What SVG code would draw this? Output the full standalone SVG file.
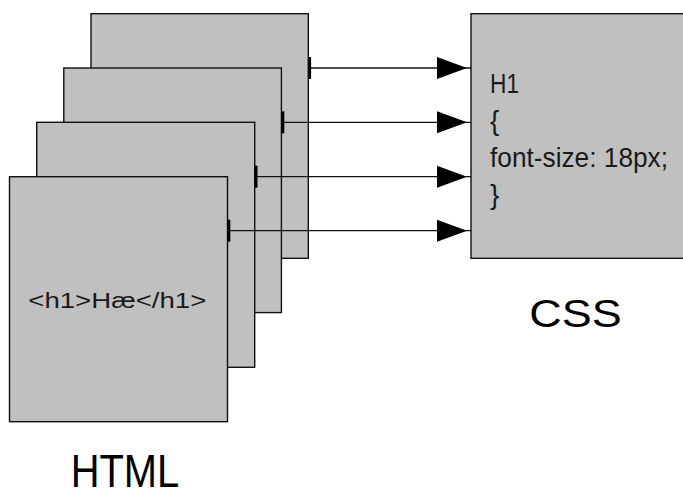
<svg xmlns="http://www.w3.org/2000/svg" width="683" height="491" viewBox="0 0 683 491">
<style>
.page{fill:#c0c0c0;stroke:#111;stroke-width:1.4}
.conn{stroke:#111;stroke-width:1.3;fill:none;marker-start:url(#tick);marker-end:url(#arrow)}
.code{font-family:"Liberation Sans",Arial,sans-serif;fill:#1a1a1a}
.label{font-family:"Liberation Sans",Arial,sans-serif;fill:#000}
</style>
<defs>
<marker id="arrow" markerUnits="userSpaceOnUse" markerWidth="40" markerHeight="24" refX="34" refY="11" orient="auto" overflow="visible">
<path d="M0,0 L30,11 L0,22 z" fill="#000"/>
</marker>
<marker id="tick" markerUnits="userSpaceOnUse" markerWidth="4" markerHeight="24" refX="0" refY="11" orient="auto" overflow="visible">
<rect x="0" y="0" width="2.8" height="22" fill="#000"/>
</marker>
</defs>
<rect width="683" height="491" fill="#fff"/>
<g id="html-page-4"><rect class="page" x="91" y="13.7" width="217.3" height="244.6"/></g>
<g id="html-page-3"><rect class="page" x="63.8" y="68" width="217.6" height="244.6"/></g>
<g id="html-page-2"><rect class="page" x="36.7" y="122.3" width="218" height="245"/></g>
<g id="html-page-1">
<rect class="page" x="9.5" y="176.7" width="218" height="245"/>
<text class="code" x="28.3" y="307.5" font-size="22" textLength="178" lengthAdjust="spacingAndGlyphs">&lt;h1&gt;Hæ&lt;/h1&gt;</text>
</g>
<g id="css-page">
<rect class="page" x="471" y="13.7" width="230" height="244.6"/>
<text class="code" x="490" y="93.3" font-size="28" textLength="29" lengthAdjust="spacingAndGlyphs">H1</text>
<text class="code" x="490" y="130" font-size="28">{</text>
<text class="code" x="490" y="167.3" font-size="28" textLength="178" lengthAdjust="spacingAndGlyphs">font-size: 18px;</text>
<text class="code" x="490" y="204" font-size="28">}</text>
</g>
<g id="connectors">
<line class="conn" x1="308.3" y1="68" x2="471" y2="68"/>
<line class="conn" x1="281.5" y1="122.3" x2="471" y2="122.3"/>
<line class="conn" x1="254.7" y1="176.7" x2="471" y2="176.7"/>
<line class="conn" x1="227.5" y1="230.7" x2="471" y2="230.7"/>
</g>
<g id="labels">
<text class="label" x="70.7" y="487.3" font-size="46" textLength="108.6" lengthAdjust="spacingAndGlyphs">HTML</text>
<text class="label" x="529.3" y="326.7" font-size="39" textLength="92.4" lengthAdjust="spacingAndGlyphs">CSS</text>
</g>
</svg>
